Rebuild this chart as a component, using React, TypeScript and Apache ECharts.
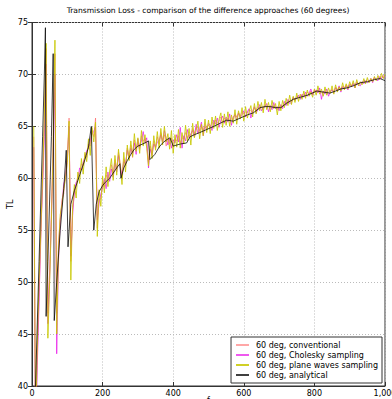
import React, { useEffect, useRef } from "react";
import * as echarts from "echarts";

const titleText = "Transmission Loss - comparison of the difference approaches (60 degrees)";
const seriesNames = [
  "60 deg, conventional",
  "60 deg, Cholesky sampling",
  "60 deg, plane waves sampling",
  "60 deg, analytical",
];

// sampled every 5 Hz, from 5 Hz to 1000 Hz
const conventional = [
  64, 35, 43, 49, 54, 60, 65, 72.5, 47, 51,
  57, 64, 72, 47, 54, 56, 58, 58.5, 60.5, 62,
  65.8, 52, 57.0, 58.5, 59.2, 60.3, 60.5, 61.4, 61.2, 62.3,
  62.0, 63.3, 63.1, 64.6, 64.0, 65.8, 55.2, 58.0, 58.0, 59.6,
  59.2, 60.3, 60.0, 60.4, 61.3, 60.4, 61.8, 60.9, 62.5, 61.4,
  60.0, 61.9, 61.2, 62.9, 62.1, 63.2, 62.0, 63.7, 62.8, 63.5,
  62.8, 64.1, 63.6, 63.8, 63.2, 61.5, 63.1, 62.4, 63.6, 62.9,
  64.0, 63.3, 64.4, 63.6, 64.2, 63.1, 63.8, 63.3, 63.9, 63.0,
  63.8, 63.6, 64.1, 63.4, 63.9, 63.8, 64.4, 63.9, 64.2, 64.0,
  64.8, 64.3, 64.9, 64.9, 64.5, 65.0, 64.6, 65.2, 64.9, 65.1,
  64.9, 65.4, 65.2, 65.6, 65.3, 65.5, 65.9, 65.4, 65.8, 65.6,
  65.8, 65.6, 65.7, 65.7, 66.2, 65.9, 66.3, 66.0, 66.4, 66.2,
  66.4, 66.3, 66.6, 66.5, 66.3, 66.8, 66.5, 66.9, 66.7, 66.9,
  66.6, 67.1, 66.9, 66.9, 66.8, 67.0, 66.9, 66.9, 66.6, 66.9,
  66.9, 67.0, 67.1, 67.3, 67.3, 67.5, 67.4, 67.8, 67.5, 67.9,
  67.8, 67.9, 68.0, 68.1, 68.0, 68.3, 68.1, 68.4, 68.1, 68.5,
  68.3, 68.5, 68.4, 68.2, 68.3, 68.4, 68.3, 68.3, 68.4, 68.6,
  68.3, 68.8, 68.5, 68.8, 68.6, 68.9, 68.7, 69.0, 68.8, 69.1,
  68.9, 69.2, 69.0, 69.3, 69.1, 69.2, 69.2, 69.4, 69.3, 69.5,
  69.3, 69.6, 69.4, 69.7, 69.5, 69.7, 69.6, 69.8, 69.7, 69.8,
];

const cholesky = [
  63, 35, 42, 48, 55, 59, 64, 71, 46, 50.5,
  56, 62, 70, 43.1, 52, 56, 57.5, 59.5, 60, 61.8,
  65, 52.5, 56.4, 58.8, 59.6, 59.9, 61.0, 60.8, 61.5, 62.0,
  62.7, 62.9, 63.6, 64.3, 64.5, 65.0, 56.0, 57.6, 58.5, 59.1,
  59.9, 59.0, 60.6, 59.7, 60.9, 60.1, 61.5, 60.6, 62.2, 61.0,
  60.3, 61.6, 61.4, 62.7, 61.9, 62.9, 62.4, 63.4, 62.3, 63.8,
  63.0, 63.6, 64.5, 63.4, 63.9, 61.0, 62.8, 62.2, 63.3, 63.0,
  63.5, 63.6, 64.2, 63.4, 64.6, 63.9, 63.2, 63.8, 62.9, 63.7,
  63.4, 64.2, 63.5, 64.9, 62.9, 64.1, 63.6, 64.7, 63.9, 64.3,
  64.6, 64.0, 65.2, 64.3, 64.8, 65.4, 64.1, 65.0, 64.7, 65.3,
  65.1, 64.6, 65.6, 65.2, 65.8, 64.9, 65.6, 66.0, 65.3, 65.9,
  65.4, 66.2, 65.1, 65.9, 66.1, 65.6, 66.3, 65.8, 66.1, 66.5,
  65.9, 66.4, 66.7, 65.8, 66.5, 66.9, 66.3, 66.6, 67.1, 66.5,
  66.8, 66.9, 67.2, 66.4, 67.0, 66.6, 67.3, 66.7, 66.9, 66.5,
  67.1, 66.7, 67.4, 67.0, 67.6, 67.2, 67.3, 67.8, 67.5, 67.7,
  68.0, 67.6, 68.1, 67.8, 68.3, 67.9, 68.2, 68.6, 68.0, 68.4,
  68.5, 68.2, 68.7, 67.6, 68.4, 68.1, 68.6, 67.9, 68.3, 68.5,
  68.2, 68.7, 68.4, 68.9, 68.3, 68.8, 68.6, 68.9, 68.5, 69.0,
  68.8, 69.1, 68.7, 69.2, 69.0, 68.9, 69.3, 69.1, 69.4, 69.2,
  69.3, 69.6, 69.2, 69.7, 69.5, 69.4, 69.8, 69.6, 69.9, 69.7,
];

const planeWaves = [
  65, 36, 44, 50, 55, 60, 66, 73, 44.6, 50,
  56, 63, 73.3, 45, 53, 56.5, 57.5, 59, 60, 61.5,
  65.5, 50.2, 57.2, 59.4, 58.1, 60.6, 59.5, 61.9, 60.4, 62.5,
  61.6, 63.8, 62.2, 64.9, 63.5, 65.4, 54.4, 58.9, 57.3, 60.2,
  58.6, 61.1, 59.2, 60.7, 61.9, 59.8, 62.2, 60.3, 62.8, 61.1,
  59.4, 62.5, 60.6, 63.2, 61.7, 63.6, 62.1, 64.3, 62.6, 63.9,
  62.4, 64.6, 63.1, 64.2, 62.9, 61.2, 63.6, 61.9, 64.1, 62.7,
  64.5, 62.9, 64.8, 63.2, 65.0, 63.5, 64.3, 62.8, 64.6, 62.4,
  64.2, 63.0, 64.7, 62.9, 64.4, 63.3, 65.1, 63.6, 64.8, 63.2,
  65.3, 63.9, 64.6, 65.5, 63.8, 65.2, 64.1, 65.7, 64.4, 65.6,
  64.3, 65.9, 64.8, 66.0, 64.6, 65.7, 66.3, 64.9, 66.2, 65.1,
  66.4, 65.0, 66.1, 65.3, 66.6, 65.2, 66.5, 65.7, 66.8, 65.5,
  66.9, 65.8, 66.4, 67.0, 65.9, 67.2, 66.2, 67.4, 66.5, 67.3,
  66.3, 67.6, 66.6, 67.3, 66.4, 67.5, 66.7, 67.2, 66.1, 67.4,
  66.5, 67.5, 66.8, 67.7, 67.0, 68.0, 67.1, 67.9, 67.3, 68.2,
  67.4, 68.1, 67.6, 68.4, 67.7, 68.5, 67.9, 68.3, 67.8, 68.6,
  68.0, 68.9, 68.1, 68.6, 67.9, 68.8, 68.0, 68.7, 68.2, 68.9,
  68.1, 69.0, 68.3, 68.8, 68.4, 69.2, 68.5, 69.1, 68.6, 69.3,
  68.8, 69.4, 68.7, 69.5, 68.9, 69.3, 69.0, 69.6, 69.1, 69.7,
  69.2, 69.6, 69.3, 69.8, 69.4, 69.9, 69.5, 70.1, 69.6, 70.0,
];

const analyticalFreq = [
  0, 10, 20, 30, 35, 38, 40, 45, 50, 55, 60, 63, 70, 80, 90, 97, 102, 110, 120, 130,
  140, 150, 160, 168, 175, 182, 190, 200, 210, 220, 230, 240, 249, 252, 260, 270, 280, 290, 300, 320,
  330, 334, 348, 360, 370, 381, 391, 400, 410, 420, 438, 448, 460, 475, 495, 515, 533, 552, 570, 590,
  610, 627, 646, 660, 675, 690, 705, 720, 740, 760, 780, 807, 825, 844, 860, 875, 892, 910, 930, 950,
  970, 986, 1000,
];
const analyticalTL = [
  36, 40, 52, 64, 70, 74.5, 46.7, 52, 58, 64, 72, 46.3, 50, 55, 59, 62.7, 53.4, 57.5, 58.8, 59.8,
  60.8, 61.8, 63, 65, 55, 57.5, 58.7, 59.3, 59.7, 60, 60.5, 61, 61.4, 60.0, 61, 61.7, 62.3, 62.8, 63.1, 63.4,
  63.6, 61.8, 62.3, 63, 63.4, 63.7, 63.9, 63.1, 63.2, 63.3, 63.4, 64.0, 64.2, 64.4, 64.7, 65.0, 65.3, 65.6, 65.5, 65.8,
  66.1, 66.3, 66.8, 66.9, 66.9, 66.8, 66.8, 67.2, 67.6, 67.8, 68.0, 68.4, 68.3, 68.2, 68.4, 68.6, 68.7, 68.9, 69.2, 69.3,
  69.5, 69.6, 69.4,
];

const xTicks = { min: 0, max: 1000, interval: 200 };
const yTicks = { min: 40, max: 75, interval: 5 };

const colors = [
  "rgba(255,60,60,0.45)",
  "rgba(230,0,230,0.65)",
  "rgba(200,200,0,0.85)",
  "rgba(0,0,0,0.75)",
];

export default function App() {
  const ref = useRef<HTMLDivElement>(null);
  useEffect(() => {
    if (!ref.current) return;
    const chart = echarts.init(ref.current, null, { renderer: "svg" });
    const grid = (vals: number[]) => vals.map((v, i) => [(i + 1) * 5, v]);
    const font = "DejaVu Sans";
    const lineSeries = (name: string, data: number[][], color: string, z: number) => ({
      name,
      type: "line",
      data,
      showSymbol: false,
      symbol: "none",
      lineStyle: { color, width: 1 },
      itemStyle: { color },
      clip: true,
      z,
    });
    chart.setOption({
      animation: false,
      textStyle: { fontFamily: font },
      title: {
        text: titleText,
        left: 208,
        textAlign: "center",
        top: 6,
        padding: 0,
        textStyle: { fontSize: 7.6, fontWeight: "normal", color: "#000", fontFamily: font },
      },
      grid: {
        left: 32,
        right: 7,
        top: 22.5,
        bottom: 13,
        containLabel: false,
        outerBoundsMode: "none",
        show: true,
        borderColor: "#333",
        borderWidth: 1,
        backgroundColor: "#fff",
      },
      legend: {
        orient: "vertical",
        right: 10,
        bottom: 16,
        backgroundColor: "#fff",
        borderColor: "#333",
        borderWidth: 1,
        borderRadius: 0,
        padding: [4, 4, 4, 5],
        itemGap: 2,
        itemWidth: 13,
        itemHeight: 2,
        icon: "rect",
        textStyle: { fontSize: 8, color: "#000", fontFamily: font, padding: [0, 0, 0, 2] },
        data: seriesNames,
      },
      xAxis: [
        {
          type: "value",
          ...xTicks,
          name: "f",
          nameLocation: "middle",
          nameGap: 10,
          nameMoveOverlap: false,
          nameTextStyle: { fontSize: 8, color: "#000", verticalAlign: "top" },
          axisLine: { show: true, lineStyle: { color: "#333" } },
          axisTick: { show: true, inside: true, length: 4, lineStyle: { color: "#333" } },
          axisLabel: { fontSize: 8, color: "#000", margin: 3 },
          splitLine: { show: true, lineStyle: { color: "#bbb", type: [1, 2], width: 1 } },
        },
        {
          type: "value",
          position: "top",
          ...xTicks,
          axisLine: { show: false },
          axisTick: { show: true, inside: true, length: 4, lineStyle: { color: "#333" } },
          axisLabel: { show: false },
          splitLine: { show: false },
        },
      ],
      yAxis: [
        {
          type: "value",
          ...yTicks,
          name: "TL",
          nameLocation: "middle",
          nameGap: 18,
          nameMoveOverlap: false,
          nameTextStyle: { fontSize: 8, color: "#000" },
          axisLine: { show: true, lineStyle: { color: "#333" } },
          axisTick: { show: true, inside: true, length: 4, lineStyle: { color: "#333" } },
          axisLabel: { fontSize: 8, color: "#000", margin: 4 },
          splitLine: { show: true, lineStyle: { color: "#bbb", type: [1, 2], width: 1 } },
        },
        {
          type: "value",
          position: "right",
          ...yTicks,
          axisLine: { show: false },
          axisTick: { show: true, inside: true, length: 4, lineStyle: { color: "#333" } },
          axisLabel: { show: false },
          splitLine: { show: false },
        },
      ],
      series: [
        lineSeries(seriesNames[0], grid(conventional), colors[0], 2),
        lineSeries(seriesNames[1], grid(cholesky), colors[1], 3),
        lineSeries(seriesNames[2], grid(planeWaves), colors[2], 4),
        lineSeries(
          seriesNames[3],
          analyticalFreq.map((f, i) => [f, analyticalTL[i]]),
          colors[3],
          5
        ),
      ],
    });
    return () => chart.dispose();
  }, []);
  return (
    <div
      ref={ref}
      style={{ position: "fixed", left: 0, top: 0, width: 392, height: 399, background: "#fff" }}
    />
  );
}
